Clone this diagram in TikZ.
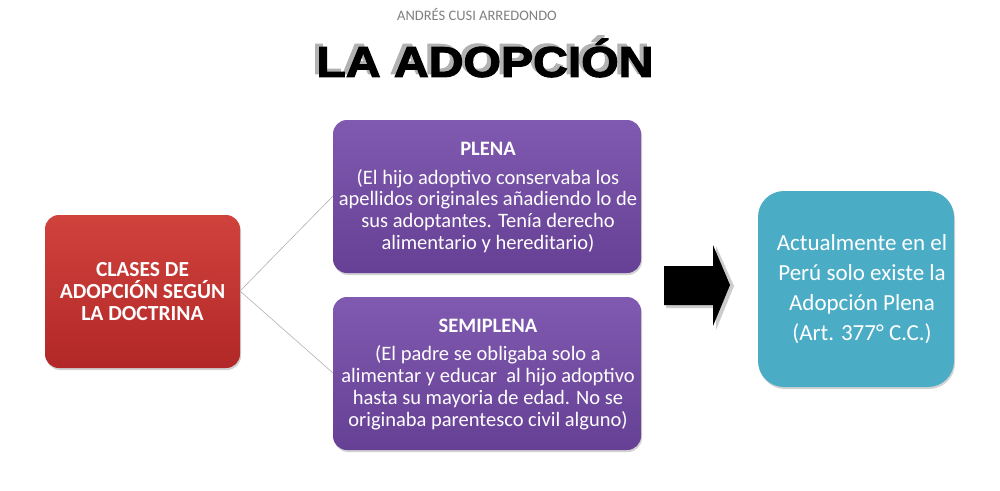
\documentclass[tikz,border=0pt]{standalone}
\usepackage{fontspec}
\setmainfont{Carlito}
\newfontfamily\titlefont{Liberation Sans Bold}[FakeBold=2.5]
\usetikzlibrary{shadows}
\begin{document}
\begin{tikzpicture}[x=1pt,y=-1pt,
  box/.style={rounded corners=14pt, draw=none, text=white, align=center, inner sep=0pt,
    drop shadow={shadow xshift=1pt, shadow yshift=-2pt, opacity=0.35}},
  ttl/.style={font=\titlefont\fontsize{43}{48}\selectfont, xscale=1.12, inner sep=0pt},
  conn/.style={draw=black!30, line width=0.6pt}]
\useasboundingbox (0,0) rectangle (1000,490);
\fill[white] (0,0) rectangle (1000,490);
% header
\node[text=black!50, font=\fontsize{14.5}{16}\selectfont] (author) at (477,14) {ANDRÉS CUSI ARREDONDO};
\node[ttl, text=black!30] (shadowtitle) at (481,55) {LA ADOPCIÓN};
\node[ttl, text=black] (title) at (485,58) {LA ADOPCIÓN};
% boxes
\path[box, top color={rgb,255:red,208;green,66;blue,60}, bottom color={rgb,255:red,178;green,40;blue,40}]
  (45,215) rectangle (240,368);
\node[text=white, align=center, font=\bfseries\fontsize{21.5}{22}\selectfont] (clases) at (142.5,292) {CLASES DE\\ADOPCIÓN SEGÚN\\LA DOCTRINA};
\coordinate (clasesE) at (240,291);
\path[box, top color={rgb,255:red,128;green,90;blue,176}, bottom color={rgb,255:red,102;green,64;blue,148}]
  (333,120) rectangle (641,273);
\node[text=white, align=center, font=\fontsize{20.5}{22}\selectfont] (plena) at (488,198) {\textbf{PLENA}\\[6pt](El hijo adoptivo conservaba los\\apellidos originales añadiendo lo de\\sus adoptantes. Tenía derecho\\alimentario y hereditario)};
\coordinate (plenaW) at (333,196);
\path[box, top color={rgb,255:red,128;green,90;blue,176}, bottom color={rgb,255:red,102;green,64;blue,148}]
  (333,297) rectangle (641,450);
\node[text=white, align=center, font=\fontsize{20.5}{22}\selectfont] (semi) at (488,375) {\textbf{SEMIPLENA}\\[6pt](El padre se obligaba solo a\\alimentar y educar\ \ al hijo adoptivo\\hasta su mayoria de edad. No se\\originaba parentesco civil alguno)};
\coordinate (semiW) at (333,373);
\path[box, rounded corners=26pt, fill={rgb,255:red,75;green,172;blue,198}]
  (758,191) rectangle (954,387);
\node[text=white, align=center, font=\fontsize{23}{30}\selectfont] (actual) at (862,289) {Actualmente en el\\Perú solo existe la\\Adopción Plena\\(Art. 377° C.C.)};
% connectors
\draw[conn] (clasesE) -- (plenaW);
\draw[conn] (clasesE) -- (semiW);
% block arrow
\fill[black!20] (666,268) -- (716,268) -- (716,246) -- (734,286) -- (716,330) -- (716,308) -- (666,308) -- cycle;
\fill[black] (664,266) -- (713,266) -- (713,245) -- (730,285) -- (713,326) -- (713,305) -- (664,305) -- cycle;
\end{tikzpicture}
\end{document}
